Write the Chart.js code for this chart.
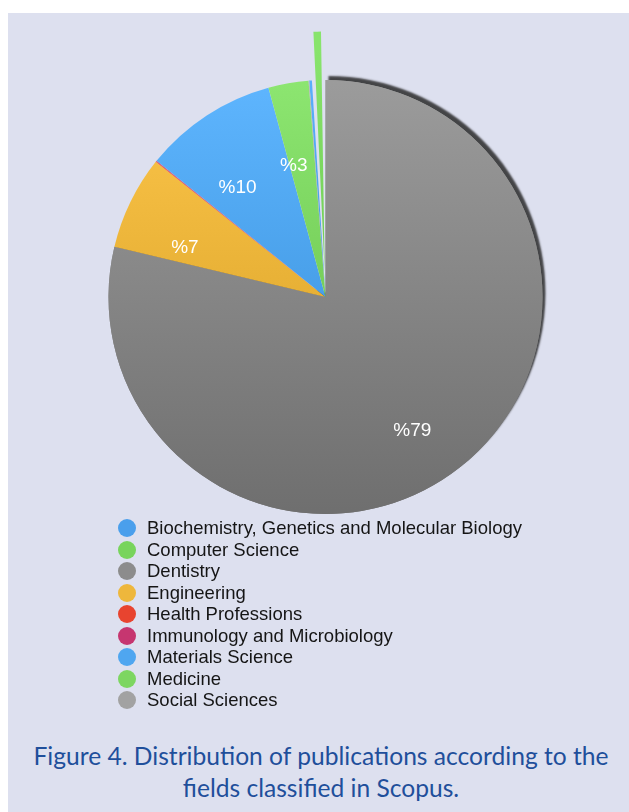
<!DOCTYPE html>
<html>
<head>
<meta charset="utf-8">
<script src="https://cdn.jsdelivr.net/npm/chart.js@4"></script>
<style>
  html, body { margin: 0; padding: 0; background: #ffffff; }
  #box {
    position: absolute; left: 8px; top: 13px; width: 621px; height: 799px;
    background: #dde0ef;
  }
  #pieWrap { position: absolute; left: -8px; top: -13px; width: 629px; height: 520px; }
  #legend {
    position: absolute; left: 0; top: 0; list-style: none; margin: 0; padding: 0;
    font-family: "Liberation Sans", Arial, sans-serif; font-size: 18.5px; color: #151515;
  }
  #legend li { position: absolute; white-space: nowrap; height: 20px; line-height: 20px; }
  #legend span.dot {
    position: absolute; width: 18px; height: 18px; border-radius: 50%; top: 1px;
  }
  #caption {
    position: absolute; left: -8px; width: 642px; top: 727px; text-align: center;
    font-family: Lato, "Open Sans", sans-serif; font-size: 24.6px; line-height: 32px; color: #1f4f9b;
  }
</style>
</head>
<body>
<div id="box">
  <div id="pieWrap"><canvas id="Fields_Chart"></canvas></div>
  <ul id="legend"></ul>
  <div id="caption">Figure 4. Distribution of publications according to the<br>fields classified in Scopus.</div>
</div>
<script>
const fieldLabels = ["Biochemistry, Genetics and Molecular Biology", "Computer Science", "Dentistry",
  "Engineering", "Health Professions", "Immunology and Microbiology", "Materials Science",
  "Medicine", "Social Sciences"];
const fieldShares = [0.2, 1.0, 79, 7, 0.05, 0.05, 10, 3, 0.05];
const fieldColors = ['#4a9fec', '#78d45c', '#8c8c8c', '#eeb73c', '#e8442f', '#c63670', '#4fa6f0', '#7dd661', '#a2a2a2'];
const sliceOffsets = [0, 100, 0, 0, 0, 0, 0, 0, 0];

// legend, built from the same arrays (one item per line like the original)
const legendEl = document.getElementById('legend');
fieldLabels.forEach((name, i) => {
  const li = document.createElement('li');
  li.style.left = '110px';
  li.style.top = (505 + i * 21.5) + 'px';
  li.innerHTML = '<span class="dot" style="left:0;background:' + fieldColors[i] + '"></span>' +
    '<span style="position:absolute;left:29px">' + name + '</span>';
  legendEl.appendChild(li);
});

function shade(hex, amt) {
  const n = parseInt(hex.slice(1), 16);
  const c = [(n >> 16) & 255, (n >> 8) & 255, n & 255].map(v => Math.max(0, Math.min(255, Math.round(v + amt))));
  return 'rgb(' + c.join(',') + ')';
}

const total = fieldShares.reduce((a, b) => a + b, 0);
// Dentistry slice begins at 12 o'clock
const startRotation = -360 * (fieldShares[0] + fieldShares[1]) / total;
const biggest = fieldShares.indexOf(Math.max(...fieldShares));

// dark rim on the upper right of the big slice (fake 3D edge)
const rimShadow = {
  id: 'rimShadow',
  beforeDatasetsDraw(chart) {
    const arc = chart.getDatasetMeta(0).data[biggest];
    const ctx = chart.ctx;
    ctx.save();
    ctx.shadowColor = 'rgba(40,40,40,0.85)';
    ctx.shadowBlur = 2;
    ctx.shadowOffsetX = 3;
    ctx.shadowOffsetY = -4;
    arc.draw(ctx);
    ctx.restore();
  }
};

// white "%NN" labels inside the big slices
const percentLabels = {
  id: 'percentLabels',
  afterDatasetsDraw(chart) {
    const ctx = chart.ctx;
    const meta = chart.getDatasetMeta(0);
    ctx.save();
    ctx.font = '19px "Liberation Sans", Arial, sans-serif';
    ctx.fillStyle = '#ffffff';
    ctx.textAlign = 'center';
    ctx.textBaseline = 'middle';
    meta.data.forEach((arc, i) => {
      const pct = fieldShares[i] / total * 100;
      if (pct < 2) return;
      const p = arc.getProps(['x', 'y', 'startAngle', 'endAngle', 'outerRadius'], true);
      const mid = (p.startAngle + p.endAngle) / 2;
      const r = p.outerRadius * 0.69;
      ctx.fillText('%' + Math.round(pct), p.x + Math.cos(mid) * r - 6, p.y + Math.sin(mid) * r + 16);
    });
    ctx.restore();
  }
};

const ctx = document.getElementById('Fields_Chart').getContext('2d');

new Chart(ctx, {
  type: 'pie',
  data: {
    labels: fieldLabels,
    datasets: [{
      data: fieldShares,
      offset: sliceOffsets,
      borderWidth: 0,
      clip: false,
      backgroundColor: (c) => {
        const base = fieldColors[c.dataIndex];
        const area = c.chart.chartArea;
        if (!area) return base;
        const g = c.chart.ctx.createLinearGradient(0, area.top, 0, area.bottom);
        g.addColorStop(0, shade(base, 16));
        g.addColorStop(1, shade(base, -30));
        return g;
      }
    }]
  },
  options: {
    responsive: true,
    maintainAspectRatio: false,
    animation: false,
    rotation: startRotation,
    radius: 217,
    layout: { padding: { left: 22, top: 74 } },
    plugins: {
      legend: { display: false },
      tooltip: { enabled: false }
    }
  },
  plugins: [rimShadow, percentLabels]
});
</script>
</body>
</html>
